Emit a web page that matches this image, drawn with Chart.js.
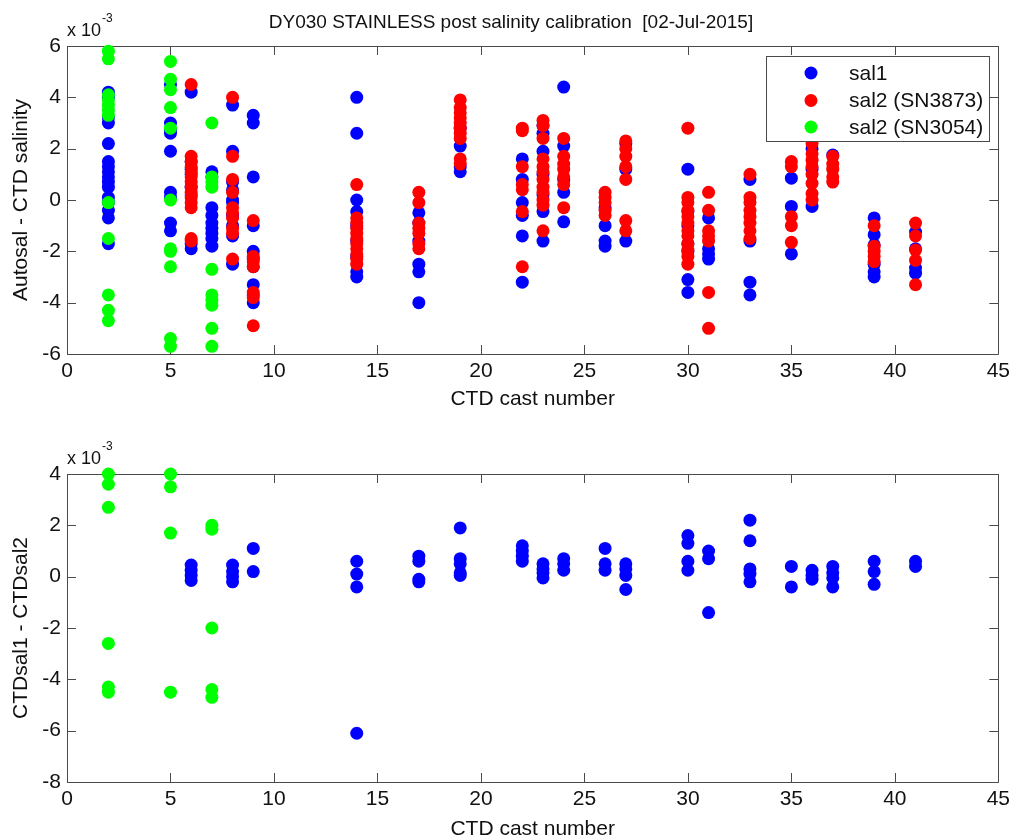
<!DOCTYPE html>
<html><head><meta charset="utf-8">
<script src="https://cdn.jsdelivr.net/npm/chart.js@4.4.1/dist/chart.umd.min.js"></script>
<style>
html,body{margin:0;padding:0;background:#fff;overflow:hidden;width:1015px;height:838px}
canvas{position:absolute;left:0}
</style></head><body>
<canvas id="c1" width="1015" height="419" style="top:0"></canvas>
<canvas id="c2" width="1015" height="440" style="top:419px"></canvas>
<script>
// ---- data (values in units of 1e-3) ----
const chartTitle = 'DY030 STAINLESS post salinity calibration  [02-Jul-2015]';
const seriesLabels = ['sal1', 'sal2 (SN3873)', 'sal2 (SN3054)'];
const seriesColors = ['#0000ff', '#ff0000', '#00ff00'];
const xTitle = 'CTD cast number';
const yTitleTop = 'Autosal - CTD salinity';
const yTitleBottom = 'CTDsal1 - CTDsal2';

// top panel: Autosal - CTD salinity, grouped as [cast, values]
const topSal1 = [
  [2, [4.2, 4.0, 3.2, 3.0, 2.2, 1.5, 1.3, 1.1, 0.9, 0.7, 0.5, 0.1, -0.1, -0.4, -0.7, -1.7]],
  [5, [4.5, 3.0, 2.7, 2.6, 1.9, 0.3, 0.1, -0.9, -1.2]],
  [6, [4.2, 1.5, 1.2, 1.0, 0.5, 0.2, -1.7, -1.9]],
  [7, [1.1, 0.9, -0.3, -0.6, -0.9, -1.1, -1.3, -1.5, -1.8]],
  [8, [3.7, 1.9, 0.7, 0.4, 0.0, -0.1, -0.6, -1.0, -1.4, -2.5]],
  [9, [3.3, 3.0, 0.9, -1.0, -2.0, -2.3, -2.6, -3.3, -3.7, -4.0]],
  [14, [4.0, 2.6, 0.0, -0.45, -1.0, -1.6, -2.2, -2.8, -3.0]],
  [17, [-0.5, -0.9, -1.6, -2.5, -2.8, -4.0]],
  [19, [2.8, 2.1, 1.3, 1.1]],
  [22, [1.6, 0.8, -0.1, -0.6, -1.4, -3.2]],
  [23, [2.9, 2.6, 1.9, 1.0, 0.2, -0.45, -1.6]],
  [24, [4.4, 2.1, 0.8, 0.3, -0.85]],
  [26, [-0.3, -1.0, -1.6, -1.8]],
  [27, [2.2, 1.2, -1.6]],
  [30, [1.2, -0.45, -1.0, -1.7, -2.0, -3.1, -3.6]],
  [31, [-0.7, -1.9, -2.1, -2.3]],
  [33, [0.8, -1.6, -3.2, -3.7]],
  [35, [0.85, -0.25, -2.1]],
  [36, [2.0, 1.2, -0.25]],
  [37, [1.75]],
  [39, [-0.7, -1.35, -1.75, -2.5, -2.8, -3.0]],
  [41, [-1.25, -1.9, -2.65, -2.85]]
];
const topSal2a = [
  [6, [4.5, 1.7, 1.5, 1.3, 1.1, 0.9, 0.7, 0.5, 0.3, 0.1, -0.1, -0.3, -1.5, -1.6]],
  [8, [4.0, 1.7, 0.8, 0.3, -0.3, -0.5, -0.7, -1.1, -1.3, -2.3]],
  [9, [-0.8, -2.2, -2.4, -2.6, -3.6, -3.8, -4.9]],
  [14, [0.6, -0.7, -0.9, -1.1, -1.3, -1.5, -1.7, -1.9, -2.1, -2.3, -2.5]],
  [17, [0.3, -0.1, -0.9, -1.1, -1.3, -1.7, -1.9]],
  [19, [3.9, 3.6, 3.4, 3.2, 3.0, 2.8, 2.6, 2.4, 1.6, 1.4]],
  [22, [2.8, 2.7, 1.3, 0.6, 0.4, -0.45, -2.6]],
  [23, [3.1, 2.9, 2.4, 1.6, 1.3, 1.1, 0.8, 0.5, 0.3, 0.0, -0.2, -1.2]],
  [24, [2.4, 1.7, 1.4, 1.2, 0.9, 0.6, -0.3]],
  [26, [0.3, 0.1, -0.1, -0.4, -0.6]],
  [27, [2.3, 2.0, 1.7, 1.3, 0.8, -0.8, -1.2]],
  [30, [2.8, 0.1, -0.1, -0.4, -0.65, -0.9, -1.2, -1.4, -1.7, -1.95, -2.2, -2.5]],
  [31, [0.3, -0.4, -1.2, -1.4, -1.6, -3.6, -5.0]],
  [33, [1.0, 0.1, -0.1, -0.4, -0.65, -0.9, -1.2, -1.5]],
  [35, [1.5, 1.3, -0.65, -1.0, -1.65]],
  [36, [2.2, 1.8, 1.55, 1.3, 1.0, 0.65, 0.25, 0.0]],
  [37, [1.7, 1.4, 1.2, 0.9, 0.7]],
  [39, [-1.0, -1.8, -2.0, -2.2, -2.4]],
  [41, [-0.9, -1.4, -1.95, -2.35, -3.3]]
];
const topSal2b = [
  [2, [5.8, 5.5, 4.1, 3.9, 3.7, 3.5, 3.3, -0.1, -1.5, -3.7, -4.3, -4.7]],
  [5, [5.4, 4.7, 4.3, 3.6, 2.8, 0.0, -1.9, -2.0, -2.6, -5.4, -5.7]],
  [7, [3.0, 0.9, 0.7, 0.5, -2.7, -3.7, -3.9, -4.1, -5.0, -5.7]]
];

// bottom panel: CTDsal1 - CTDsal2
const botSal2a = [
  [6, [0.45, 0.25, 0.05, -0.15]],
  [8, [0.45, 0.2, 0.0, -0.2]],
  [9, [1.1, 0.2]],
  [14, [0.6, 0.1, -0.4, -6.1]],
  [17, [0.8, 0.6, -0.1, -0.2]],
  [19, [1.9, 0.7, 0.5, 0.15, 0.05]],
  [22, [1.2, 1.0, 0.8, 0.6]],
  [23, [0.5, 0.3, 0.15, -0.05]],
  [24, [0.7, 0.5, 0.25]],
  [26, [1.1, 0.5, 0.25]],
  [27, [0.5, 0.3, 0.05, -0.5]],
  [30, [1.6, 1.3, 0.6, 0.25]],
  [31, [1.0, 0.7, -1.4]],
  [33, [2.2, 1.4, 0.3, 0.1, -0.2]],
  [35, [0.4, -0.4]],
  [36, [0.25, 0.05, -0.1]],
  [37, [0.4, 0.15, -0.05, -0.4]],
  [39, [0.6, 0.2, -0.3]],
  [41, [0.6, 0.4]]
];
const botSal2b = [
  [2, [4.0, 3.6, 2.7, -2.6, -4.3, -4.5]],
  [5, [4.0, 3.5, 1.7, -4.5]],
  [7, [2.0, 1.85, -2.0, -4.4, -4.7]]
];

const xRange = [0, 45, 5];
const yRangeTop = [-6, 6, 2];
const yRangeBottom = [-8, 4, 2];

// ---- rendering ----
const FONT = "'Liberation Sans', Arial, sans-serif";
const TXT = '#111111';
const AX = '#4a4a4a';
const R = 6.5;

function pts(groups) {
  const out = [];
  groups.forEach(([c, vals]) => vals.forEach(v => out.push({x: c, y: v})));
  return out;
}
function ds(groups, idx, order) {
  return {
    label: seriesLabels[idx], data: pts(groups),
    backgroundColor: seriesColors[idx], borderColor: seriesColors[idx],
    borderWidth: 0, pointRadius: R, pointHoverRadius: R, showLine: false,
    clip: false, order: order
  };
}

const framePlugin = {
  id: 'frame',
  beforeDatasetsDraw(chart) {
    const {ctx, chartArea: a, scales} = chart;
    ctx.save();
    ctx.strokeStyle = AX; ctx.lineWidth = 1;
    ctx.beginPath();
    ctx.rect(Math.round(a.left) + 0.5, Math.round(a.top) + 0.5, Math.round(a.right - a.left), Math.round(a.bottom - a.top));
    ctx.stroke();
    const L = 9;
    ctx.beginPath();
    scales.x.ticks.forEach(t => {
      const px = Math.round(scales.x.getPixelForValue(t.value)) + 0.5;
      ctx.moveTo(px, a.bottom); ctx.lineTo(px, a.bottom - L);
      ctx.moveTo(px, a.top); ctx.lineTo(px, a.top + L);
    });
    scales.y.ticks.forEach(t => {
      const py = Math.round(scales.y.getPixelForValue(t.value)) + 0.5;
      ctx.moveTo(a.left, py); ctx.lineTo(a.left + L, py);
      ctx.moveTo(a.right, py); ctx.lineTo(a.right - L, py);
    });
    ctx.stroke();
    ctx.restore();
  },
  afterDraw(chart, args, opts) {
    const {ctx, chartArea: a} = chart;
    ctx.save();
    ctx.fillStyle = TXT;
    // exponent label
    ctx.font = '18px ' + FONT;
    ctx.textBaseline = 'middle'; ctx.textAlign = 'left';
    const base = 'x 10';
    ctx.fillText(base, a.left, a.top - 15);
    const w = ctx.measureText(base).width;
    ctx.font = '12px ' + FONT;
    ctx.fillText('-3', a.left + w + 1, a.top - 27);
    if (opts.title) {
      ctx.font = '19px ' + FONT;
      ctx.textAlign = 'center';
      ctx.fillText(opts.title, 511, 23);
    }
    if (opts.legend) {
      const bx = 766.5, by = 56.5, bw = 223, bh = 85;
      ctx.fillStyle = '#ffffff';
      ctx.fillRect(bx, by, bw, bh);
      ctx.strokeStyle = AX; ctx.lineWidth = 1;
      ctx.strokeRect(bx, by, bw, bh);
      const rows = [73, 100.5, 127];
      chart.data.datasets.forEach((d, i) => {
        ctx.beginPath();
        ctx.fillStyle = d.backgroundColor;
        ctx.arc(811, rows[i], R, 0, Math.PI * 2);
        ctx.fill();
        ctx.fillStyle = TXT;
        ctx.font = '21px ' + FONT;
        ctx.textAlign = 'left'; ctx.textBaseline = 'middle';
        ctx.fillText(d.label, 849, rows[i] + 1);
      });
    }
    ctx.restore();
  }
};

function makeChart(id, datasets, yr, yTitle, padTop, xAxisH, xTitlePadBottom, extra) {
  return new Chart(document.getElementById(id), {
    type: 'scatter',
    data: {datasets},
    plugins: [framePlugin],
    options: {
      responsive: false, animation: false, devicePixelRatio: 1,
      layout: {padding: {top: padTop, right: 15, left: 0, bottom: 0}},
      events: [],
      plugins: {legend: {display: false}, tooltip: {enabled: false}, frame: extra},
      scales: {
        x: {
          type: 'linear', min: xRange[0], max: xRange[1],
          grid: {display: false, drawTicks: false}, border: {display: false},
          ticks: {stepSize: xRange[2], font: {family: FONT, size: 21}, color: TXT, padding: 5, maxRotation: 0, autoSkip: false},
          title: {display: true, text: xTitle, font: {family: FONT, size: 21}, color: TXT, padding: {top: 0, bottom: xTitlePadBottom}},
          afterFit: s => { s.height = xAxisH; }
        },
        y: {
          type: 'linear', min: yr[0], max: yr[1],
          grid: {display: false, drawTicks: false}, border: {display: false},
          ticks: {stepSize: yr[2], font: {family: FONT, size: 21}, color: TXT, padding: 6, autoSkip: false},
          title: {display: true, text: yTitle, font: {family: FONT, size: 21}, color: TXT, padding: {top: 9, bottom: 0}},
          afterFit: s => { s.width = 67; }
        }
      }
    }
  });
}

makeChart('c1', [ds(topSal1, 0, 3), ds(topSal2a, 1, 2), ds(topSal2b, 2, 1)],
  yRangeTop, yTitleTop, 46, 65, 7, {title: chartTitle, legend: true});
makeChart('c2', [ds(botSal2a, 0, 2), ds(botSal2b, 2, 1)],
  yRangeBottom, yTitleBottom, 55, 77, 17, {title: null, legend: false});
</script>
</body></html>
